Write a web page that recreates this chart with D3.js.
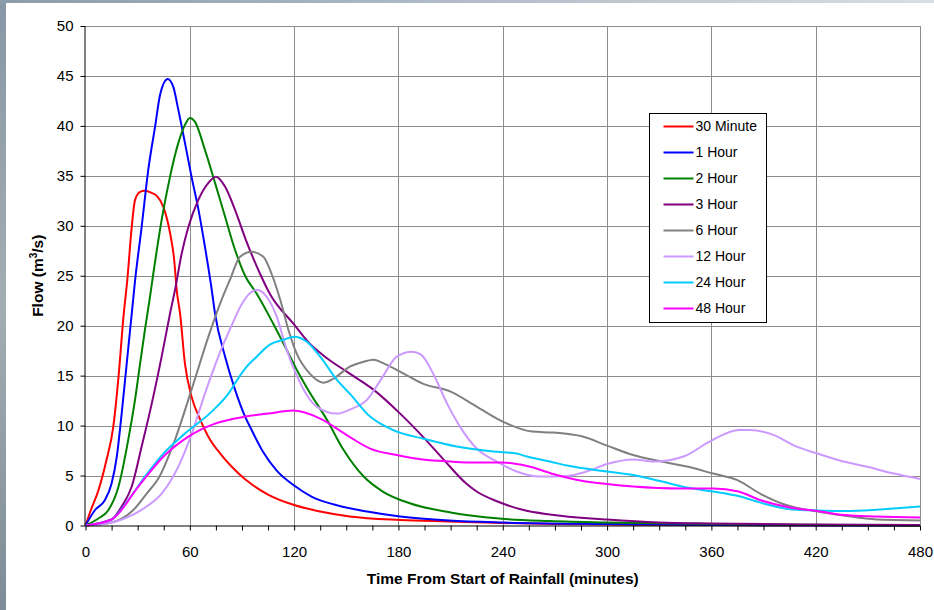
<!DOCTYPE html>
<html>
<head>
<meta charset="utf-8">
<script src="https://cdn.jsdelivr.net/npm/d3@7"></script>
<style>
  html, body { margin: 0; padding: 0; background: #fff; }
  svg { display: block; font-family: "Liberation Sans", Arial, sans-serif; }
</style>
</head>
<body>
<div id="chart"></div>
<script>
// hydrograph: flow vs time for storms of different durations
// each series is [minutes, flow m3/s]
const red30 = [[0,0],[3,1.5],[7.4,3.5],[12,6.5],[16,9.9],[19,14.9],[22,21.2],[24,24.5],[26.6,29.9],[28.5,32.6],[31.4,33.4],[34,33.5],[38,33.3],[41,33],[44.8,31.9],[48.6,29.3],[51,26.6],[52.5,23.5],[54.4,21.2],[57.2,16.2],[61,12.9],[66,10.6],[71.6,8.6],[78,7.1],[84,5.9],[92,4.6],[95,4.2],[105,3.1],[120,2.05],[135,1.4],[152,0.9],[181,0.55],[209,0.4],[240,0.25],[270,0.15],[300,0.1],[360,0.05],[480,0]];
const blue60 = [[0,0],[5.5,1.55],[11,2.5],[15,4.2],[18,6.9],[20.8,11.2],[23.7,16.2],[26.6,21.2],[28.5,24.5],[32.3,29.9],[36.1,35.6],[40,39.9],[43,43.2],[47.3,44.7],[50.5,43.9],[53.4,41.6],[57.2,38.3],[61,34.9],[65,31.6],[68.7,27.9],[72.6,23.6],[74.5,21.2],[80.3,16.9],[86,13.6],[91.8,10.9],[94.6,9.9],[102,7.4],[110,5.5],[120,4],[130,2.9],[143,2.1],[162,1.4],[181,0.9],[209,0.5],[240,0.3],[300,0.15],[360,0.05],[480,0]];
const green120 = [[0,0],[7.4,0.7],[13,1.5],[19,3.9],[24.6,8.6],[28.5,12.6],[31.4,16.2],[34.2,19.6],[37.1,22.9],[39,25.2],[43.8,30.6],[48.6,34.9],[53.4,38.3],[57.2,40.1],[60,40.8],[63,40.4],[68.7,37.6],[74.5,34.3],[80.3,30.9],[86,27.6],[91.8,25],[98.5,23.2],[108,20.2],[115.7,17.6],[121.5,15.6],[128,13.6],[138.8,10.6],[148.3,7.6],[160,4.9],[171,3.4],[187,2.2],[210,1.3],[238,0.7],[267,0.45],[300,0.3],[340,0.2],[380,0.1],[480,0]];
const purple180 = [[0,0],[15,0.6],[20.8,1.9],[26.6,3.9],[32.3,7.9],[38.1,12.2],[43.8,16.9],[48.6,21.2],[51.5,23.6],[55.3,27.2],[59.2,29.9],[64.9,32.6],[70.7,34.3],[75,34.9],[80.3,33.9],[86,31.6],[92,28.7],[100.4,25.2],[106,23.2],[119.6,20.2],[129,18.2],[137,17],[152,15.2],[165.6,13.6],[181,11.2],[194,8.9],[206,6.6],[219,4.2],[225,3.4],[237,2.4],[252,1.55],[267,1.1],[300,0.6],[330,0.3],[360,0.2],[420,0.1],[480,0.05]];
const gray360 = [[0,0],[14,0.25],[27.5,1.55],[35.2,3.2],[41.9,4.7],[51.5,8.6],[61,13.6],[70.7,18.9],[78.3,22.6],[83.1,24.6],[88.9,26.9],[95.6,27.4],[102.3,26.9],[107,25.2],[112,22.6],[116.7,19.6],[121.5,17.2],[129,15.2],[136.8,14.3],[142.6,14.7],[152,15.9],[160,16.4],[165.6,16.6],[173,16.1],[183,15.2],[194,14.2],[210,13.4],[225,11.9],[240,10.4],[257,9.4],[269,9.3],[286,8.9],[300,8],[315,7.05],[330,6.45],[346,5.9],[361,5.2],[375,4.55],[388,3.2],[403,2.05],[421,1.4],[436,1],[455,0.6],[480,0.5]];
const lav720 = [[0,0],[15,0.3],[28.5,1.2],[36,2],[43.8,3.2],[53.4,5.9],[61.1,9.2],[68.7,13.2],[76.4,16.9],[84,20],[90,22.2],[98.5,23.6],[104.2,22.9],[110,20.9],[115.7,17.6],[121.5,15],[133,11.9],[144.5,11.2],[152,11.6],[162,12.6],[171,14.9],[179,16.9],[187.7,17.4],[193,17.1],[200,15.2],[208,12.2],[215.4,9.9],[225,7.7],[236.6,6.4],[248,5.4],[261.5,4.9],[276.8,4.95],[288.3,5.4],[300,6.15],[315,6.6],[327,6.4],[344,6.9],[359,8.4],[376,9.55],[382,9.55],[396,9.05],[407,8.05],[421,7.2],[436,6.4],[449,5.9],[465,5.2],[480,4.65]];
const cyan1440 = [[0,0],[15,0.6],[24.6,2.55],[34.2,4.9],[44.8,7.2],[57.2,9.2],[72.6,11.4],[82.2,13.2],[87,14.5],[91.8,15.7],[98.5,16.9],[106,18.1],[114,18.6],[120,18.9],[127.3,18.4],[135,16.9],[144.5,14.6],[152,13.2],[163.7,10.9],[177,9.55],[194,8.7],[213.5,7.9],[234.6,7.4],[248,7.2],[254,6.9],[267,6.4],[277,6],[300,5.4],[315,5.05],[330.5,4.45],[346,3.8],[361,3.4],[376.6,2.9],[390,2.2],[407,1.6],[421,1.5],[440,1.45],[465,1.7],[480,1.9]];
const mag2880 = [[0,0],[15,0.6],[30.4,3.9],[45.7,7.05],[59.2,8.9],[74.5,10.2],[92,10.9],[105,11.2],[119.6,11.5],[135,10.7],[150.3,9.05],[163.7,7.7],[179,7.05],[194,6.6],[210,6.4],[225,6.3],[240,6.3],[254,5.95],[271,5.05],[284.5,4.5],[300,4.15],[315,3.9],[342,3.7],[361,3.7],[375.6,3.4],[388,2.55],[405,1.8],[421,1.45],[436,1.05],[455,0.9],[480,0.8]];

const seriesNames = ["30 Minute", "1 Hour", "2 Hour", "3 Hour", "6 Hour", "12 Hour", "24 Hour", "48 Hour"];
const seriesData = [red30, blue60, green120, purple180, gray360, lav720, cyan1440, mag2880];
const seriesColors = ["#ff0000", "#0000ff", "#008000", "#800080", "#808080", "#cc99ff", "#00ccff", "#ff00ff"];

const xTicks = [0, 60, 120, 180, 240, 300, 360, 420, 480];
const yTicks = [0, 5, 10, 15, 20, 25, 30, 35, 40, 45, 50];

(function () {
  const width = 934;
  const height = 610;
  const margin = { left: 85.5, right: 934 - 920, top: 26, bottom: 610 - 525.5 };
  const fontFamily = "Liberation Sans, Arial, sans-serif";

  const svg = d3.select("#chart")
    .append("svg")
    .attr("width", width)
    .attr("height", height);

  // slate-ish backdrop peeking out at the top and left edges
  const defs = svg.append("defs");
  const grad = defs.append("linearGradient").attr("id", "bg").attr("x1", 0).attr("y1", 0).attr("x2", 0).attr("y2", 1);
  grad.append("stop").attr("offset", "0%").attr("stop-color", "#8797a6");
  grad.append("stop").attr("offset", "50%").attr("stop-color", "#a3aeb2");
  grad.append("stop").attr("offset", "100%").attr("stop-color", "#7d8c98");
  svg.append("rect").attr("width", width).attr("height", height).attr("fill", "url(#bg)");
  const topGrad = defs.append("linearGradient").attr("id", "bgTop");
  topGrad.append("stop").attr("offset", "0%").attr("stop-color", "#8c9cab");
  topGrad.append("stop").attr("offset", "100%").attr("stop-color", "#d8dee4");
  svg.append("rect").attr("width", width).attr("height", 3).attr("fill", "url(#bgTop)");
  svg.append("rect").attr("x", 6).attr("y", 3).attr("width", width - 6).attr("height", height - 3).attr("fill", "#fff");

  const x = d3.scaleLinear().domain([0, 480]).range([margin.left, width - margin.right]);
  const y = d3.scaleLinear().domain([0, 50]).range([height - margin.bottom, margin.top]);

  // gridlines
  const grid = svg.append("g").attr("stroke", "#8c8c8c").attr("stroke-width", 1);
  grid.selectAll("line.h")
    .data(yTicks.filter((d) => d > 0))
    .join("line")
    .attr("class", "h")
    .attr("x1", x(0)).attr("x2", x(480))
    .attr("y1", (d) => Math.round(y(d)) + 0.5).attr("y2", (d) => Math.round(y(d)) + 0.5);
  grid.selectAll("line.v")
    .data(xTicks.filter((d) => d > 0))
    .join("line")
    .attr("class", "v")
    .attr("y1", y(0)).attr("y2", y(50))
    .attr("x1", (d) => Math.round(x(d)) + 0.5).attr("x2", (d) => Math.round(x(d)) + 0.5);

  // series
  const line = d3.line()
    .x((d) => x(d[0]))
    .y((d) => y(d[1]))
    .curve(d3.curveMonotoneX);

  svg.append("g")
    .selectAll("path")
    .data(seriesData)
    .join("path")
    .attr("fill", "none")
    .attr("stroke", (d, i) => seriesColors[i])
    .attr("stroke-width", 2)
    .attr("stroke-linejoin", "round")
    .attr("d", line);

  // axes
  const xAxis = d3.axisBottom(x)
    .tickValues(d3.range(0, 481, 15))
    .tickSize(5)
    .tickFormat((d) => (d % 60 === 0 ? d : ""));
  const gx = svg.append("g")
    .attr("transform", `translate(0,${y(0)})`)
    .call(xAxis);
  gx.select(".domain").attr("stroke", "#000").attr("d", `M${x(0)},0.5H${x(480)}`);
  gx.selectAll(".tick line").attr("stroke", "#000");
  gx.selectAll(".tick text")
    .attr("font-size", 15)
    .attr("fill", "#000")
    .attr("y", 26)
    .attr("dy", "0.35em")
    .attr("font-family", fontFamily);

  const yAxis = d3.axisLeft(y).tickValues(yTicks).tickSize(5);
  const gy = svg.append("g")
    .attr("transform", `translate(${x(0)},0)`)
    .call(yAxis);
  gy.select(".domain").attr("stroke", "#000").attr("d", `M-0.5,${y(50)}V${y(0)}`);
  gy.selectAll(".tick line").attr("stroke", "#000");
  gy.selectAll(".tick text")
    .attr("font-size", 15)
    .attr("fill", "#000")
    .attr("x", -12)
    .attr("font-family", fontFamily);

  // axis titles
  svg.append("text")
    .attr("x", (x(0) + x(480)) / 2)
    .attr("y", 584)
    .attr("text-anchor", "middle")
    .attr("font-size", 15.5)
    .attr("font-weight", "bold")
    .text("Time From Start of Rainfall (minutes)");

  const yTitle = svg.append("text")
    .attr("transform", `translate(43,${y(25)}) rotate(-90)`)
    .attr("text-anchor", "middle")
    .attr("font-size", 15.5)
    .attr("font-weight", "bold");
  yTitle.append("tspan").text("Flow (m");
  yTitle.append("tspan").attr("font-size", 10).attr("dy", -6).text("3");
  yTitle.append("tspan").attr("dy", 6).text("/s)");

  // legend
  const legend = svg.append("g").attr("transform", "translate(649.5,113.5)");
  legend.append("rect")
    .attr("width", 117)
    .attr("height", 209)
    .attr("fill", "#fff")
    .attr("stroke", "#000")
    .attr("stroke-width", 1);
  const items = legend.selectAll("g.item")
    .data(seriesNames)
    .join("g")
    .attr("class", "item")
    .attr("transform", (d, i) => `translate(0,${13 + i * 26})`);
  items.append("line")
    .attr("x1", 14).attr("x2", 44)
    .attr("stroke", (d, i) => seriesColors[i])
    .attr("stroke-width", 2);
  items.append("text")
    .attr("x", 46)
    .attr("dy", "0.35em")
    .attr("font-size", 14)
    .text((d) => d);
})();
</script>
</body>
</html>
